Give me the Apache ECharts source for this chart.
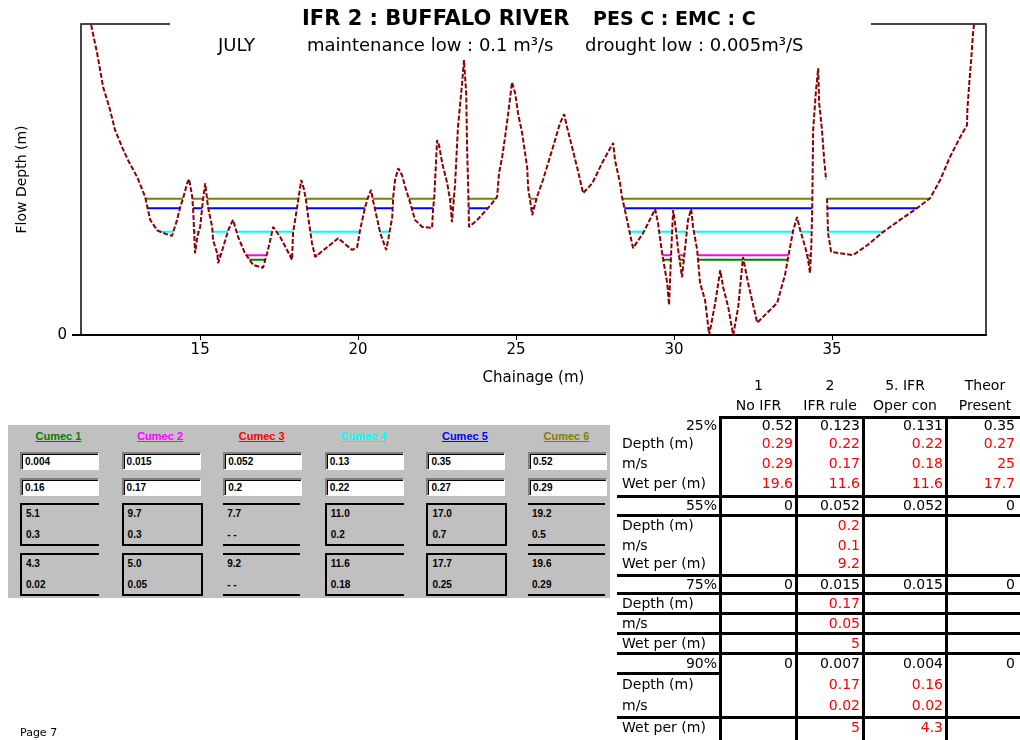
<!DOCTYPE html>
<html>
<head>
<meta charset="utf-8">
<script src="https://cdn.jsdelivr.net/npm/echarts@6/dist/echarts.min.js"></script>
<style>
  body { margin: 0; background: #fff; font-family: "DejaVu Sans", sans-serif; }
  #chart { position: absolute; left: 0; top: 0; width: 1020px; height: 740px; }
  .abs { position: absolute; white-space: nowrap; }
  #panel { position: absolute; left: 8px; top: 425px; width: 602px; height: 173px; background: #c0c0c0; }
  .hd { position: absolute; top: 5px; width: 77px; text-align: center; font: bold 11px "Liberation Sans", sans-serif; text-decoration: underline; }
  .inp { position: absolute; width: 73px; height: 15px; background: #fff; border-top: 2px solid #808080; border-left: 2px solid #808080;
         border-bottom: 1px solid #fff; border-right: 1px solid #fff; box-shadow: inset 1px 1px #000; font: bold 10px "Liberation Sans", sans-serif; padding-left: 3px; line-height: 16px; }
  .grp { position: absolute; width: 77px; height: 39px; border-top: 2px solid #000; border-bottom: 2px solid #000; box-sizing: content-box; }
  .cell { position: absolute; left: 4px; font: bold 10px "Liberation Sans", sans-serif; }
  .tl { position: absolute; background: #000; }
  .tt { position: absolute; font-size: 14px; line-height: 18px; white-space: nowrap; }
</style>
</head>
<body>
<div id="chart"></div>
<div id="panel"></div>
<div id="tbl"></div>
<div class="abs" style="left:20px;top:726px;font-size:11px">Page 7</div>
<script>
// cross-section: chainage (m) and bed level (m above lowest bed), null = break in survey line
const chainage = [11.55, 11.74, 11.93, 12.15, 12.31, 12.53, 12.72, 13.01, 13.26, 13.42, 13.64, 13.83, 14.11, 14.27, 14.37, 14.46,
  14.59, 14.65, 14.75, 14.78, 14.84, 14.91, 15.00, 15.09, 15.16, 15.25, 15.38, 15.41, 15.54, 15.57, 15.73, 15.89, 16.04, 16.20,
  16.42, 16.68, 16.99, 17.12, 17.22, 17.31, 17.53, 17.75, 17.91, 17.94, 18.07, 18.20, 18.29, 18.35, 18.42, 18.54, 18.64, 19.02,
  19.37, 19.81, 19.97, 20.06, 20.22, 20.32, 20.41, 20.47, 20.54, 20.70, 20.89, 20.95, 21.08, 21.11, 21.17, 21.27, 21.39, 21.49,
  21.65, 21.80, 22.03, 22.34, 22.37, 22.41, 22.50, 22.56, 22.66, 22.82, 22.91, 22.97, 23.07, 23.16, 23.29, 23.35, 23.42, 23.45,
  23.48, 23.51, 23.77, 24.11, 24.40, 24.46, 24.56, 24.65, 24.75, 24.87, 24.97, 25.06, 25.19, 25.35, 25.38, 25.44, 25.51, 25.66,
  25.85, 26.14, 26.39, 26.52, 26.61, 26.77, 26.93, 27.12, 27.41, 27.72, 28.07, 28.13, 28.29, 28.35, 28.51, 28.70, 29.02, 29.40,
  29.49, 29.62, 29.78, 29.84, 29.91, 29.97, 30.03, 30.13, 30.25, 30.35, 30.44, 30.54, 30.60, 30.73, 30.82, 30.98, 31.11, 31.30,
  31.46, 31.55, 31.71, 31.87, 32.03, 32.18, 32.34, 32.63, 32.94, 33.26, 33.51, 33.61, 33.77, 33.89, 33.99, 34.15, 34.24, 34.30,
  34.34, 34.37, 34.40, 34.49, 34.56, 34.59, 34.68, 34.75, 34.81, 34.82, 34.84, 34.87, 34.97, 35.25, 35.66, 36.11, 36.61, 37.15,
  37.69, 38.10, 38.42, 38.73, 39.05, 39.27, 39.28, 39.34, 39.40, 39.46, 39.49];
const bedLevel = [0.660, 0.600, 0.528, 0.479, 0.436, 0.400, 0.372, 0.336, 0.294, 0.245, 0.223, 0.217, 0.211, 0.245, 0.272, 0.291,
  0.323, 0.332, 0.294, 0.266, 0.174, 0.209, 0.230, 0.287, 0.323, 0.272, 0.230, 0.202, 0.174, 0.153, 0.187, 0.223, 0.245, 0.209,
  0.174, 0.149, 0.143, 0.174, 0.202, 0.230, 0.209, 0.181, 0.160, 0.217, 0.272, 0.330, 0.309, 0.287, 0.251, 0.196, 0.166, 0.187,
  0.206, 0.181, 0.187, 0.223, 0.272, 0.294, 0.309, 0.287, 0.266, 0.217, 0.181, 0.202, 0.251, 0.294, 0.330, 0.355, 0.340, 0.315,
  0.281, 0.245, 0.230, 0.228, 0.266, 0.294, 0.415, 0.404, 0.366, 0.323, 0.287, 0.240, 0.323, 0.443, 0.536, 0.585, 0.515, 0.394,
  0.323, 0.230, 0.245, 0.270, 0.294, 0.345, 0.379, 0.421, 0.472, 0.538, 0.515, 0.472, 0.430, 0.357, 0.313, 0.287, 0.255, 0.294,
  0.330, 0.394, 0.451, 0.470, 0.443, 0.400, 0.357, 0.302, 0.323, 0.366, 0.409, 0.372, 0.323, 0.294, 0.245, 0.185, 0.217, 0.268,
  0.238, 0.174, 0.111, 0.064, 0.181, 0.266, 0.238, 0.181, 0.123, 0.187, 0.245, 0.268, 0.230, 0.181, 0.111, 0.074, 0.000, 0.068,
  0.138, 0.102, 0.060, 0.000, 0.060, 0.166, 0.111, 0.026, 0.047, 0.068, 0.128, 0.166, 0.223, 0.251, 0.223, 0.187, 0.160, 0.132,
  0.187, 0.266, 0.436, 0.521, 0.568, 0.494, 0.436, 0.372, 0.330, null, 0.291, 0.217, 0.177, 0.174, 0.170, 0.191, 0.219, 0.245,
  0.270, 0.291, 0.330, 0.379, 0.421, 0.447, 0.479, 0.536, 0.585, 0.643, 0.660];

// water levels (depth, m) for the modelled cases that are drawn
const levelNames = ['Cumec 6', 'Cumec 5', 'Cumec 4', 'Cumec 2', 'Cumec 1'];
const levelDepths = [0.29, 0.27, 0.22, 0.17, 0.16];
const levelColors = ['#808000', '#0000ff', '#00ffff', '#ff00ff', '#008000'];

const xTicks = [15, 20, 25, 30, 35];
const yTicks = [0];

// case panel
const caseNames = ['Cumec 1', 'Cumec 2', 'Cumec 3', 'Cumec 4', 'Cumec 5', 'Cumec 6'];
const caseColors = ['#008000', '#ff00ff', '#ff0000', '#00ffff', '#0000ff', '#808000'];
const caseFlow = ['0.004', '0.015', '0.052', '0.13', '0.35', '0.52'];
const caseDepth = ['0.16', '0.17', '0.2', '0.22', '0.27', '0.29'];
const caseWidth = ['5.1', '9.7', '7.7', '11.0', '17.0', '19.2'];
const caseRadius = ['0.3', '0.3', '- -', '0.2', '0.7', '0.5'];
const caseWetPer = ['4.3', '5.0', '9.2', '11.6', '17.7', '19.6'];
const caseVel = ['0.02', '0.05', '- -', '0.18', '0.25', '0.29'];

// summary table
const colHead1 = ['1', '2', '5. IFR', 'Theor'];
const colHead2 = ['No IFR', 'IFR rule', 'Oper con', 'Present'];
const pctLabels = ['25%', '55%', '75%', '90%'];
const flowRows = [['0.52', '0.123', '0.131', '0.35'], ['0', '0.052', '0.052', '0'], ['0', '0.015', '0.015', '0'], ['0', '0.007', '0.004', '0']];
const depthRows = [['0.29', '0.22', '0.22', '0.27'], ['', '0.2', '', ''], ['', '0.17', '', ''], ['', '0.17', '0.16', '']];
const velRows = [['0.29', '0.17', '0.18', '25'], ['', '0.1', '', ''], ['', '0.05', '', ''], ['', '0.02', '0.02', '']];
const wetRows = [['19.6', '11.6', '11.6', '17.7'], ['', '9.2', '', ''], ['', '5', '', ''], ['', '5', '4.3', '']];

const GRID = { left: 81, top: 24, right: 34, bottom: 405 };

function wetLine(level) {
  const out = [];
  let last = null;
  for (let i = 0; i < chainage.length - 1; i++) {
    const y1 = bedLevel[i], y2 = bedLevel[i + 1];
    if (y1 == null || y2 == null) continue;
    if (y1 >= level && y2 >= level) continue;
    const x1 = chainage[i], x2 = chainage[i + 1];
    const cross = x1 + (x2 - x1) * (level - y1) / (y2 - y1);
    const a = y1 < level ? x1 : cross;
    const b = y2 < level ? x2 : cross;
    if (last && Math.abs(last[1] - a) < 1e-9) last[1] = b;
    else { last = [a, b]; out.push(last); }
  }
  const data = [];
  out.forEach(s => { data.push([s[0], level], [s[1], level], [s[1], '-']); });
  return data;
}

const chart = echarts.init(document.getElementById('chart'));
const series = levelDepths.map((d, i) => ({
  name: levelNames[i], type: 'line', data: wetLine(d), symbol: 'none', connectNulls: false,
  lineStyle: { color: levelColors[i], width: 2 }, z: 2
}));
series.push({
  name: 'Bed', type: 'line', symbol: 'none', connectNulls: false,
  data: chainage.map((x, i) => [x, bedLevel[i] == null ? '-' : bedLevel[i]]),
  lineStyle: { color: '#8b0000', width: 2, type: [5, 2] }, z: 3
});

const W = 1020;
chart.setOption({
  animation: false,
  title: [
    { text: 'IFR 2 : BUFFALO RIVER', left: 302, top: 9, padding: 0, textStyle: { fontFamily: 'DejaVu Sans', fontWeight: 'bold', fontSize: 21, color: '#000' } },
    { text: 'PES C : EMC : C', left: 593, top: 11, padding: 0, textStyle: { fontFamily: 'DejaVu Sans', fontWeight: 'bold', fontSize: 19, color: '#000' } },
    { text: 'JULY', left: 218, top: 37, padding: 0, textStyle: { fontFamily: 'DejaVu Sans', fontWeight: 'normal', fontSize: 18, color: '#000' } },
    { text: 'maintenance low : 0.1 m³/s', left: 307, top: 37, padding: 0, textStyle: { fontFamily: 'DejaVu Sans', fontWeight: 'normal', fontSize: 18, color: '#000' } },
    { text: 'drought low : 0.005m³/S', left: 585, top: 37, padding: 0, textStyle: { fontFamily: 'DejaVu Sans', fontWeight: 'normal', fontSize: 18, color: '#000' } }
  ],
  grid: { left: GRID.left, top: GRID.top, right: GRID.right, bottom: GRID.bottom },
  xAxis: {
    type: 'value', min: 11.23, max: 39.87,
    name: 'Chainage (m)', nameLocation: 'middle', nameGap: 36,
    nameTextStyle: { fontFamily: 'DejaVu Sans', fontSize: 15, color: '#000' },
    axisLine: { lineStyle: { color: '#000', width: 2 } },
    axisTick: { customValues: xTicks, length: 5, lineStyle: { color: '#000', width: 1 } },
    axisLabel: { customValues: xTicks, margin: 8, fontFamily: 'DejaVu Sans', fontSize: 15, color: '#000' },
    splitLine: { show: false }
  },
  yAxis: [{
    type: 'value', min: 0, max: 0.662,
    name: 'Flow Depth (m)', nameLocation: 'middle', nameGap: 52, nameRotate: 90,
    nameTextStyle: { fontFamily: 'DejaVu Sans', fontSize: 14, color: '#000' },
    axisLine: { show: true, lineStyle: { color: '#444', width: 2 } },
    axisTick: { show: true, customValues: yTicks, length: 9, lineStyle: { color: '#000', width: 2 } },
    axisLabel: { customValues: yTicks, margin: 14, fontFamily: 'DejaVu Sans', fontSize: 15, color: '#000' },
    splitLine: { show: false }
  }, {
    type: 'value', min: 0, max: 0.662, position: 'right',
    axisLine: { show: true, lineStyle: { color: '#444', width: 2 } },
    axisTick: { show: false }, axisLabel: { show: false }, splitLine: { show: false }
  }],
  graphic: [
    { type: 'line', shape: { x1: GRID.left, y1: GRID.top, x2: 170, y2: GRID.top }, style: { stroke: '#444', lineWidth: 2 } },
    { type: 'line', shape: { x1: 871, y1: GRID.top, x2: W - GRID.right, y2: GRID.top }, style: { stroke: '#444', lineWidth: 2 } }
  ],
  series: series
});

// ---- case panel ----
const panel = document.getElementById('panel');
const leftB = [1, 1, 0, 1, 1, 0], rightB = [0, 1, 0, 0, 1, 0];
function el(parent, cls, css, text) {
  const d = document.createElement('div');
  d.className = cls;
  d.style.cssText = css;
  if (text != null) d.textContent = text;
  parent.appendChild(d);
  return d;
}
caseNames.forEach((name, i) => {
  const x = 12 + i * 101.6;
  el(panel, 'hd', `left:${x}px;color:${caseColors[i]}`, name);
  el(panel, 'inp', `left:${x}px;top:27px`, caseFlow[i]);
  el(panel, 'inp', `left:${x}px;top:53px`, caseDepth[i]);
  [[caseWidth, caseRadius, 78], [caseWetPer, caseVel, 128]].forEach(g => {
    const b = el(panel, 'grp', `left:${x}px;top:${g[2]}px;` +
      (leftB[i] ? 'border-left:2px solid #000;' : '') + (rightB[i] ? 'border-right:2px solid #000;' : ''));
    el(b, 'cell', 'top:3px', g[0][i]);
    el(b, 'cell', 'top:24px', g[1][i]);
  });
});

// ---- summary table ----
const tbl = document.getElementById('tbl');
const colRight = [717, 793, 860, 943, 1015];
const vLines = [719, 795, 862, 945];
const hFull = [495, 514, 574, 592, 612, 632, 652, 716];
vLines.forEach(x => el(tbl, 'tl', `left:${x}px;top:416px;width:3px;height:324px`));
el(tbl, 'tl', 'left:719px;top:416px;width:301px;height:3px');
hFull.forEach(y => el(tbl, 'tl', `left:617px;top:${y}px;width:403px;height:3px`));
el(tbl, 'tl', 'left:617px;top:672px;width:104px;height:3px');
colHead1.forEach((t, j) => {
  const c = (vLines[j] + (vLines[j + 1] || 1022)) / 2 + 1.5;
  el(tbl, 'tt', `left:${c - 50}px;width:100px;text-align:center;top:376px`, t);
  el(tbl, 'tt', `left:${c - 50}px;width:100px;text-align:center;top:396px`, colHead2[j]);
});
const rowY = [[425, 443, 463, 483], [505, 525, 545, 563], [584, 603, 623, 643], [663, 684, 705, 727]];
function rowText(y, label, labelRight, vals, color) {
  if (labelRight) el(tbl, 'tt', `left:${colRight[0] - 100}px;width:100px;text-align:right;top:${y - 9}px`, label);
  else el(tbl, 'tt', `left:622px;top:${y - 9}px`, label);
  vals.forEach((v, j) => {
    if (v !== '') el(tbl, 'tt', `left:${colRight[j + 1] - 70}px;width:70px;text-align:right;top:${y - 9}px;color:${color}`, v);
  });
}
pctLabels.forEach((p, k) => {
  rowText(rowY[k][0], p, true, flowRows[k], '#000');
  rowText(rowY[k][1], 'Depth (m)', false, depthRows[k], '#ff0000');
  rowText(rowY[k][2], 'm/s', false, velRows[k], '#ff0000');
  rowText(rowY[k][3], 'Wet per (m)', false, wetRows[k], '#ff0000');
});
</script>
</body>
</html>
